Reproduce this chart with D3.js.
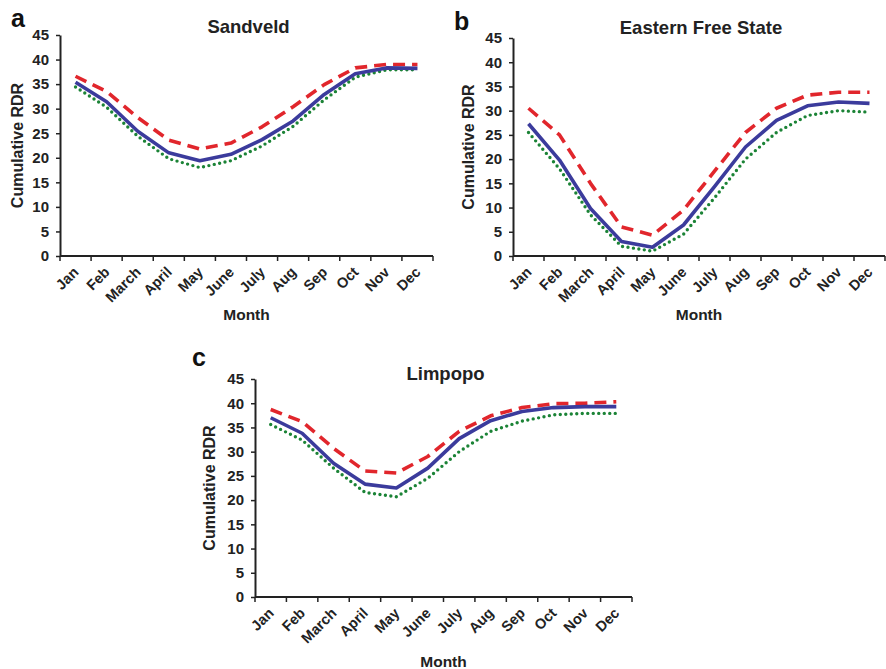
<!DOCTYPE html>
<html>
<head>
<meta charset="utf-8">
<script src="https://cdn.jsdelivr.net/npm/d3@7"></script>
<style>
  body { margin: 0; background: #fff; }
  svg { display: block; font-family: "Liberation Sans", Arial, sans-serif; }
  .tick text { font-weight: bold; fill: #222; }
</style>
</head>
<body>
<div id="chart"></div>
<script>
const MONTHS = ['Jan', 'Feb', 'March', 'April', 'May', 'June', 'July', 'Aug', 'Sep', 'Oct', 'Nov', 'Dec'];
const Y_TICKS = [0, 5, 10, 15, 20, 25, 30, 35, 40, 45];

// Sandveld
const sandveldDashed = [36.6, 33.5, 28.2, 23.6, 21.8, 23.0, 26.3, 30.4, 34.9, 38.3, 39.0, 39.0];
const sandveldSolid  = [35.4, 31.4, 25.4, 21.0, 19.4, 20.7, 23.7, 27.5, 32.9, 37.1, 38.3, 38.2];
const sandveldDotted = [34.4, 30.3, 24.4, 19.8, 18.0, 19.4, 22.4, 26.4, 31.8, 36.4, 37.9, 37.9];

// Eastern Free State
const easternDashed = [30.5, 25.0, 15.0, 6.0, 4.3, 9.5, 17.5, 25.5, 30.5, 33.2, 33.8, 33.8];
const easternSolid  = [27.3, 19.8, 9.8, 3.0, 1.8, 6.4, 14.3, 22.5, 28.0, 31.0, 31.8, 31.5];
const easternDotted = [25.5, 18.0, 8.5, 2.0, 1.0, 4.5, 12.0, 20.0, 25.5, 29.0, 30.0, 29.7];

// Limpopo
const limpopoDashed = [38.7, 36.2, 30.7, 26.0, 25.6, 29.0, 34.2, 37.4, 39.1, 39.9, 40.0, 40.3];
const limpopoSolid  = [37.0, 33.8, 27.6, 23.3, 22.5, 26.6, 32.7, 36.4, 38.3, 39.1, 39.3, 39.3];
const limpopoDotted = [35.6, 32.4, 26.6, 21.6, 20.7, 24.5, 30.0, 34.2, 36.3, 37.6, 37.9, 37.9];

const WIDTH = 886, HEIGHT = 669;

const SERIES_STYLE = [
  { key: 'dashed', color: '#e1262c', width: 3.6, dash: '12,7', cap: 'butt' },
  { key: 'dotted', color: '#1b8336', width: 3.4, dash: '0,5.5', cap: 'round' },
  { key: 'solid',  color: '#3b3b9c', width: 3.6, dash: null, cap: 'butt' }
];

const PANELS = [
  { letter: 'a', title: 'Sandveld', left: 60, right: 433, top: 35, bottom: 256,
    letterPos: [11, 27], titleY: 33, yLabelX: 17, monthY: 320,
    data: { dashed: sandveldDashed, solid: sandveldSolid, dotted: sandveldDotted } },
  { letter: 'b', title: 'Eastern Free State', left: 513, right: 885, top: 38, bottom: 256,
    letterPos: [454, 30], titleY: 34, yLabelX: 468, monthY: 320,
    data: { dashed: easternDashed, solid: easternSolid, dotted: easternDotted } },
  { letter: 'c', title: 'Limpopo', left: 255, right: 632, top: 379, bottom: 597,
    letterPos: [192, 366], titleY: 380, yLabelX: 209, monthY: 667,
    data: { dashed: limpopoDashed, solid: limpopoSolid, dotted: limpopoDotted } }
];

const svg = d3.select('#chart')
  .append('svg')
  .attr('width', WIDTH)
  .attr('height', HEIGHT);

PANELS.forEach(p => drawPanel(p));

function drawPanel(p) {

  const x = d3.scaleBand()
    .domain(MONTHS)
    .range([p.left, p.right])
    .padding(0);

  const y = d3.scaleLinear()
    .domain([0, 45])
    .range([p.bottom, p.top]);

  const g = svg.append('g');
  const midX = (p.left + p.right) / 2;

  // panel letter + title
  g.append('text')
    .attr('x', p.letterPos[0])
    .attr('y', p.letterPos[1])
    .attr('font-size', 25)
    .attr('font-weight', 'bold')
    .attr('fill', '#111')
    .text(p.letter);

  g.append('text')
    .attr('x', midX + 2)
    .attr('y', p.titleY)
    .attr('text-anchor', 'middle')
    .attr('font-size', 18.5)
    .attr('font-weight', 'bold')
    .attr('fill', '#222')
    .text(p.title);

  // y axis
  const yAxis = g.append('g')
    .attr('transform', `translate(${p.left},0)`)
    .call(d3.axisLeft(y).tickValues(Y_TICKS).tickSize(4).tickPadding(7).tickSizeOuter(0));
  yAxis.select('.domain').attr('stroke', '#222').attr('stroke-width', 2);
  yAxis.selectAll('.tick line').attr('stroke', '#222').attr('stroke-width', 1.5);
  yAxis.selectAll('.tick text').attr('font-size', 15).attr('font-family', null);

  // x axis: line, ticks between months, rotated labels
  const xAxis = g.append('g')
    .attr('transform', `translate(0,${p.bottom})`);

  xAxis.append('line')
    .attr('x1', p.left)
    .attr('x2', p.right)
    .attr('stroke', '#222')
    .attr('stroke-width', 2);

  const edges = MONTHS.map(m => x(m)).concat([p.right]);
  xAxis.selectAll('line.xtick')
    .data(edges)
    .join('line')
    .attr('class', 'xtick')
    .attr('x1', d => d)
    .attr('x2', d => d)
    .attr('y1', 0)
    .attr('y2', 5)
    .attr('stroke', '#222')
    .attr('stroke-width', 1.5);

  xAxis.selectAll('text.month')
    .data(MONTHS)
    .join('text')
    .attr('class', 'month')
    .attr('text-anchor', 'end')
    .attr('font-size', 14.5)
    .attr('font-weight', 'bold')
    .attr('fill', '#222')
    .attr('transform', d => `translate(${x(d) + x.bandwidth() / 2 + 4},${17}) rotate(-45)`)
    .text(d => d);

  // axis titles
  g.append('text')
    .attr('transform', `translate(${p.yLabelX},${(p.top + p.bottom) / 2}) rotate(-90)`)
    .attr('text-anchor', 'middle')
    .attr('dy', '0.35em')
    .attr('font-size', 16)
    .attr('font-weight', 'bold')
    .attr('fill', '#222')
    .text('Cumulative RDR');

  g.append('text')
    .attr('x', midX)
    .attr('y', p.monthY)
    .attr('text-anchor', 'middle')
    .attr('font-size', 15.5)
    .attr('font-weight', 'bold')
    .attr('fill', '#222')
    .text('Month');

  // lines
  const line = d3.line()
    .x((d, i) => x(MONTHS[i]) + x.bandwidth() / 2)
    .y(d => y(d));

  SERIES_STYLE.forEach(s => {
    g.append('path')
      .datum(p.data[s.key])
      .attr('d', line)
      .attr('fill', 'none')
      .attr('stroke', s.color)
      .attr('stroke-width', s.width)
      .attr('stroke-dasharray', s.dash)
      .attr('stroke-linecap', s.cap)
      .attr('stroke-linejoin', 'round');
  });

}
</script>
</body>
</html>
